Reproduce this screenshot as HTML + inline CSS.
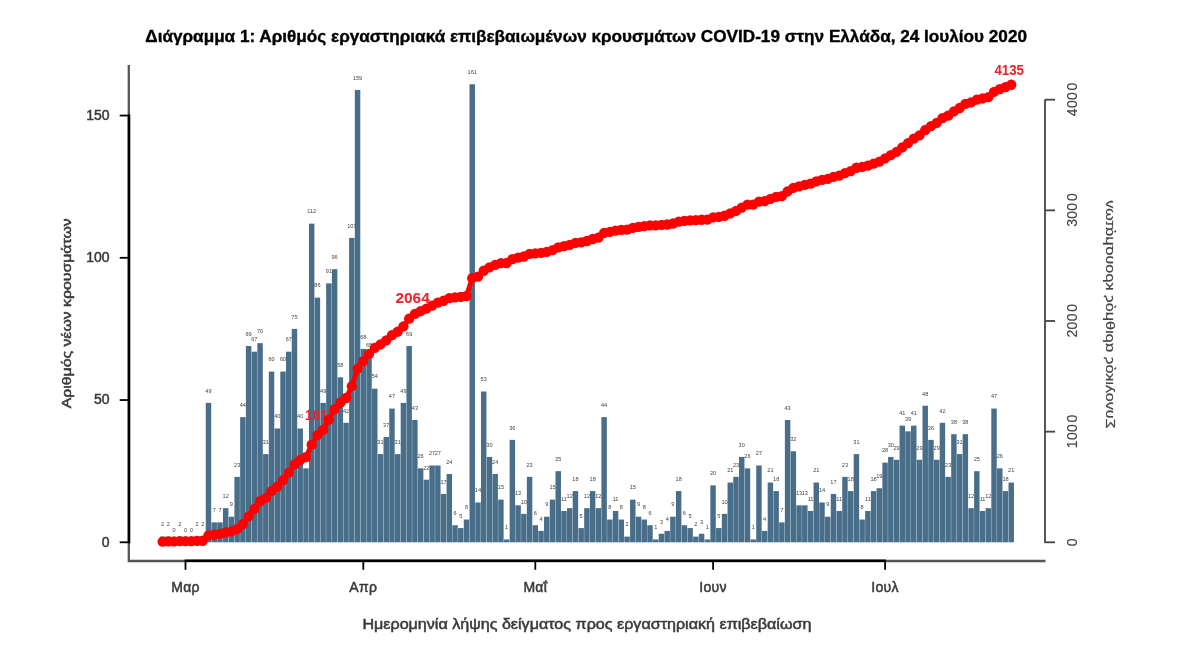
<!DOCTYPE html><html><head><meta charset="utf-8"><title>Διάγραμμα 1</title>
<style>html,body{margin:0;padding:0;background:#fff}svg{display:block;filter:blur(0.5px)}text{font-family:"Liberation Sans","DejaVu Sans",sans-serif}</style></head><body>
<svg width="1200" height="654" viewBox="0 0 1200 654">
<rect width="1200" height="654" fill="#fff"/>
<text x="145.3" y="41.7" font-size="16.2" font-weight="bold" fill="#000" stroke="#000" stroke-width="0.35" textLength="881.7" lengthAdjust="spacingAndGlyphs">Διάγραμμα 1: Αριθμός εργαστηριακά επιβεβαιωμένων κρουσμάτων COVID-19 στην Ελλάδα, 24 Ιουλίου 2020</text>
<g fill="#486e8a">
<rect x="159.88" y="536.61" width="5.45" height="5.69"/>
<rect x="165.61" y="536.61" width="5.45" height="5.69"/>
<rect x="177.08" y="536.61" width="5.45" height="5.69"/>
<rect x="194.28" y="536.61" width="5.45" height="5.69"/>
<rect x="200.01" y="536.61" width="5.45" height="5.69"/>
<rect x="205.75" y="402.89" width="5.45" height="139.41"/>
<rect x="211.48" y="522.38" width="5.45" height="19.92"/>
<rect x="217.22" y="522.38" width="5.45" height="19.92"/>
<rect x="222.95" y="508.16" width="5.45" height="34.14"/>
<rect x="228.68" y="516.69" width="5.45" height="25.61"/>
<rect x="234.42" y="476.86" width="5.45" height="65.44"/>
<rect x="240.15" y="417.12" width="5.45" height="125.18"/>
<rect x="245.89" y="345.99" width="5.45" height="196.31"/>
<rect x="251.62" y="351.68" width="5.45" height="190.62"/>
<rect x="257.35" y="343.15" width="5.45" height="199.15"/>
<rect x="263.09" y="454.10" width="5.45" height="88.20"/>
<rect x="268.82" y="371.60" width="5.45" height="170.70"/>
<rect x="274.55" y="428.50" width="5.45" height="113.80"/>
<rect x="280.29" y="371.60" width="5.45" height="170.70"/>
<rect x="286.02" y="351.68" width="5.45" height="190.62"/>
<rect x="291.76" y="328.92" width="5.45" height="213.38"/>
<rect x="297.49" y="428.50" width="5.45" height="113.80"/>
<rect x="303.22" y="468.33" width="5.45" height="73.97"/>
<rect x="308.96" y="223.66" width="5.45" height="318.64"/>
<rect x="314.69" y="297.63" width="5.45" height="244.67"/>
<rect x="320.43" y="402.89" width="5.45" height="139.41"/>
<rect x="326.16" y="283.40" width="5.45" height="258.90"/>
<rect x="331.89" y="269.18" width="5.45" height="273.12"/>
<rect x="337.63" y="377.29" width="5.45" height="165.01"/>
<rect x="343.36" y="422.81" width="5.45" height="119.49"/>
<rect x="349.10" y="237.88" width="5.45" height="304.42"/>
<rect x="354.83" y="89.94" width="5.45" height="452.36"/>
<rect x="360.56" y="348.84" width="5.45" height="193.46"/>
<rect x="366.30" y="357.37" width="5.45" height="184.93"/>
<rect x="372.03" y="388.67" width="5.45" height="153.63"/>
<rect x="377.77" y="454.10" width="5.45" height="88.20"/>
<rect x="383.50" y="437.03" width="5.45" height="105.27"/>
<rect x="389.24" y="408.58" width="5.45" height="133.72"/>
<rect x="394.97" y="454.10" width="5.45" height="88.20"/>
<rect x="400.70" y="402.89" width="5.45" height="139.41"/>
<rect x="406.44" y="345.99" width="5.45" height="196.31"/>
<rect x="412.17" y="419.96" width="5.45" height="122.34"/>
<rect x="417.90" y="468.33" width="5.45" height="73.97"/>
<rect x="423.64" y="479.71" width="5.45" height="62.59"/>
<rect x="429.37" y="465.48" width="5.45" height="76.82"/>
<rect x="435.11" y="465.48" width="5.45" height="76.82"/>
<rect x="440.84" y="493.93" width="5.45" height="48.37"/>
<rect x="446.57" y="474.02" width="5.45" height="68.28"/>
<rect x="452.31" y="525.23" width="5.45" height="17.07"/>
<rect x="458.04" y="528.07" width="5.45" height="14.23"/>
<rect x="463.78" y="519.54" width="5.45" height="22.76"/>
<rect x="469.51" y="84.25" width="5.45" height="458.05"/>
<rect x="475.25" y="502.47" width="5.45" height="39.83"/>
<rect x="480.98" y="391.51" width="5.45" height="150.78"/>
<rect x="486.71" y="456.95" width="5.45" height="85.35"/>
<rect x="492.45" y="474.02" width="5.45" height="68.28"/>
<rect x="498.18" y="499.62" width="5.45" height="42.68"/>
<rect x="503.91" y="539.45" width="5.45" height="2.85"/>
<rect x="509.65" y="439.88" width="5.45" height="102.42"/>
<rect x="515.38" y="505.31" width="5.45" height="36.98"/>
<rect x="521.12" y="513.85" width="5.45" height="28.45"/>
<rect x="526.85" y="476.86" width="5.45" height="65.44"/>
<rect x="532.58" y="525.23" width="5.45" height="17.07"/>
<rect x="538.32" y="530.92" width="5.45" height="11.38"/>
<rect x="544.05" y="516.69" width="5.45" height="25.61"/>
<rect x="549.79" y="499.62" width="5.45" height="42.68"/>
<rect x="555.52" y="471.17" width="5.45" height="71.12"/>
<rect x="561.25" y="511.00" width="5.45" height="31.30"/>
<rect x="566.99" y="508.16" width="5.45" height="34.14"/>
<rect x="572.72" y="491.09" width="5.45" height="51.21"/>
<rect x="578.46" y="528.07" width="5.45" height="14.23"/>
<rect x="584.19" y="508.16" width="5.45" height="34.14"/>
<rect x="589.92" y="491.09" width="5.45" height="51.21"/>
<rect x="595.66" y="508.16" width="5.45" height="34.14"/>
<rect x="601.39" y="417.12" width="5.45" height="125.18"/>
<rect x="607.13" y="519.54" width="5.45" height="22.76"/>
<rect x="612.86" y="511.00" width="5.45" height="31.30"/>
<rect x="618.60" y="519.54" width="5.45" height="22.76"/>
<rect x="624.33" y="536.61" width="5.45" height="5.69"/>
<rect x="630.06" y="499.62" width="5.45" height="42.68"/>
<rect x="635.80" y="516.69" width="5.45" height="25.61"/>
<rect x="641.53" y="519.54" width="5.45" height="22.76"/>
<rect x="647.26" y="525.23" width="5.45" height="17.07"/>
<rect x="653.00" y="539.45" width="5.45" height="2.85"/>
<rect x="658.73" y="533.76" width="5.45" height="8.54"/>
<rect x="664.47" y="530.92" width="5.45" height="11.38"/>
<rect x="670.20" y="516.69" width="5.45" height="25.61"/>
<rect x="675.93" y="491.09" width="5.45" height="51.21"/>
<rect x="681.67" y="525.23" width="5.45" height="17.07"/>
<rect x="687.40" y="528.07" width="5.45" height="14.23"/>
<rect x="693.14" y="536.61" width="5.45" height="5.69"/>
<rect x="698.87" y="533.76" width="5.45" height="8.54"/>
<rect x="704.61" y="539.45" width="5.45" height="2.85"/>
<rect x="710.34" y="485.40" width="5.45" height="56.90"/>
<rect x="716.07" y="528.07" width="5.45" height="14.23"/>
<rect x="721.81" y="513.85" width="5.45" height="28.45"/>
<rect x="727.54" y="482.55" width="5.45" height="59.75"/>
<rect x="733.27" y="476.86" width="5.45" height="65.44"/>
<rect x="739.01" y="456.95" width="5.45" height="85.35"/>
<rect x="744.74" y="468.33" width="5.45" height="73.97"/>
<rect x="750.48" y="539.45" width="5.45" height="2.85"/>
<rect x="756.21" y="465.48" width="5.45" height="76.82"/>
<rect x="761.95" y="530.92" width="5.45" height="11.38"/>
<rect x="767.68" y="482.55" width="5.45" height="59.75"/>
<rect x="773.41" y="491.09" width="5.45" height="51.21"/>
<rect x="779.15" y="522.38" width="5.45" height="19.92"/>
<rect x="784.88" y="419.96" width="5.45" height="122.34"/>
<rect x="790.62" y="451.26" width="5.45" height="91.04"/>
<rect x="796.35" y="505.31" width="5.45" height="36.98"/>
<rect x="802.08" y="505.31" width="5.45" height="36.98"/>
<rect x="807.82" y="511.00" width="5.45" height="31.30"/>
<rect x="813.55" y="482.55" width="5.45" height="59.75"/>
<rect x="819.28" y="502.47" width="5.45" height="39.83"/>
<rect x="825.02" y="516.69" width="5.45" height="25.61"/>
<rect x="830.75" y="493.93" width="5.45" height="48.37"/>
<rect x="836.49" y="511.00" width="5.45" height="31.30"/>
<rect x="842.22" y="476.86" width="5.45" height="65.44"/>
<rect x="847.96" y="491.09" width="5.45" height="51.21"/>
<rect x="853.69" y="454.10" width="5.45" height="88.20"/>
<rect x="859.42" y="519.54" width="5.45" height="22.76"/>
<rect x="865.16" y="511.00" width="5.45" height="31.30"/>
<rect x="870.89" y="491.09" width="5.45" height="51.21"/>
<rect x="876.62" y="488.24" width="5.45" height="54.06"/>
<rect x="882.36" y="462.64" width="5.45" height="79.66"/>
<rect x="888.09" y="456.95" width="5.45" height="85.35"/>
<rect x="893.83" y="459.79" width="5.45" height="82.51"/>
<rect x="899.56" y="425.65" width="5.45" height="116.65"/>
<rect x="905.29" y="431.34" width="5.45" height="110.96"/>
<rect x="911.03" y="425.65" width="5.45" height="116.65"/>
<rect x="916.76" y="459.79" width="5.45" height="82.51"/>
<rect x="922.50" y="405.74" width="5.45" height="136.56"/>
<rect x="928.23" y="439.88" width="5.45" height="102.42"/>
<rect x="933.97" y="459.79" width="5.45" height="82.51"/>
<rect x="939.70" y="422.81" width="5.45" height="119.49"/>
<rect x="945.43" y="476.86" width="5.45" height="65.44"/>
<rect x="951.17" y="434.19" width="5.45" height="108.11"/>
<rect x="956.90" y="454.10" width="5.45" height="88.20"/>
<rect x="962.63" y="434.19" width="5.45" height="108.11"/>
<rect x="968.37" y="508.16" width="5.45" height="34.14"/>
<rect x="974.10" y="471.17" width="5.45" height="71.12"/>
<rect x="979.84" y="511.00" width="5.45" height="31.30"/>
<rect x="985.57" y="508.16" width="5.45" height="34.14"/>
<rect x="991.30" y="408.58" width="5.45" height="133.72"/>
<rect x="997.04" y="468.33" width="5.45" height="73.97"/>
<rect x="1002.77" y="491.09" width="5.45" height="51.21"/>
<rect x="1008.51" y="482.55" width="5.45" height="59.75"/>
</g>
<g font-size="5.6" fill="#444" text-anchor="middle">
<text x="162.60" y="526.41">2</text>
<text x="168.33" y="526.41">2</text>
<text x="174.07" y="532.10">0</text>
<text x="179.80" y="526.41">2</text>
<text x="185.54" y="532.10">0</text>
<text x="191.27" y="532.10">0</text>
<text x="197.00" y="526.41">2</text>
<text x="202.74" y="526.41">2</text>
<text x="208.47" y="392.69">49</text>
<text x="214.21" y="512.18">7</text>
<text x="219.94" y="512.18">7</text>
<text x="225.67" y="497.96">12</text>
<text x="231.41" y="506.49">9</text>
<text x="237.14" y="466.66">23</text>
<text x="242.88" y="406.92">44</text>
<text x="248.61" y="335.79">69</text>
<text x="254.34" y="341.48">67</text>
<text x="260.08" y="332.95">70</text>
<text x="265.81" y="443.90">31</text>
<text x="271.55" y="361.40">60</text>
<text x="277.28" y="418.30">40</text>
<text x="283.01" y="361.40">60</text>
<text x="288.75" y="341.48">67</text>
<text x="294.48" y="318.72">75</text>
<text x="300.22" y="418.30">40</text>
<text x="305.95" y="458.13">26</text>
<text x="311.68" y="213.46">112</text>
<text x="317.42" y="287.43">86</text>
<text x="323.15" y="392.69">49</text>
<text x="328.89" y="273.20">91</text>
<text x="334.62" y="258.98">96</text>
<text x="340.35" y="367.09">58</text>
<text x="346.09" y="412.61">42</text>
<text x="351.82" y="227.68">107</text>
<text x="357.56" y="79.74">159</text>
<text x="363.29" y="338.64">68</text>
<text x="369.02" y="347.17">65</text>
<text x="374.76" y="378.47">54</text>
<text x="380.49" y="443.90">31</text>
<text x="386.23" y="426.83">37</text>
<text x="391.96" y="398.38">47</text>
<text x="397.69" y="443.90">31</text>
<text x="403.43" y="392.69">49</text>
<text x="409.16" y="335.79">69</text>
<text x="414.90" y="409.76">43</text>
<text x="420.63" y="458.13">26</text>
<text x="426.36" y="469.51">22</text>
<text x="432.10" y="455.28">27</text>
<text x="437.83" y="455.28">27</text>
<text x="443.57" y="483.73">17</text>
<text x="449.30" y="463.82">24</text>
<text x="455.03" y="515.03">6</text>
<text x="460.77" y="517.87">5</text>
<text x="466.50" y="509.34">8</text>
<text x="472.24" y="74.05">161</text>
<text x="477.97" y="492.27">14</text>
<text x="483.70" y="381.31">53</text>
<text x="489.44" y="446.75">30</text>
<text x="495.17" y="463.82">24</text>
<text x="500.91" y="489.42">15</text>
<text x="506.64" y="529.25">1</text>
<text x="512.37" y="429.68">36</text>
<text x="518.11" y="495.11">13</text>
<text x="523.84" y="503.65">10</text>
<text x="529.58" y="466.66">23</text>
<text x="535.31" y="515.03">6</text>
<text x="541.04" y="520.72">4</text>
<text x="546.78" y="506.49">9</text>
<text x="552.51" y="489.42">15</text>
<text x="558.25" y="460.97">25</text>
<text x="563.98" y="500.80">11</text>
<text x="569.71" y="497.96">12</text>
<text x="575.45" y="480.89">18</text>
<text x="581.18" y="517.87">5</text>
<text x="586.92" y="497.96">12</text>
<text x="592.65" y="480.89">18</text>
<text x="598.38" y="497.96">12</text>
<text x="604.12" y="406.92">44</text>
<text x="609.85" y="509.34">8</text>
<text x="615.59" y="500.80">11</text>
<text x="621.32" y="509.34">8</text>
<text x="627.05" y="526.41">2</text>
<text x="632.79" y="489.42">15</text>
<text x="638.52" y="506.49">9</text>
<text x="644.26" y="509.34">8</text>
<text x="649.99" y="515.03">6</text>
<text x="655.72" y="529.25">1</text>
<text x="661.46" y="523.56">3</text>
<text x="667.19" y="520.72">4</text>
<text x="672.93" y="506.49">9</text>
<text x="678.66" y="480.89">18</text>
<text x="684.39" y="515.03">6</text>
<text x="690.13" y="517.87">5</text>
<text x="695.86" y="526.41">2</text>
<text x="701.60" y="523.56">3</text>
<text x="707.33" y="529.25">1</text>
<text x="713.06" y="475.20">20</text>
<text x="718.80" y="517.87">5</text>
<text x="724.53" y="503.65">10</text>
<text x="730.27" y="472.35">21</text>
<text x="736.00" y="466.66">23</text>
<text x="741.73" y="446.75">30</text>
<text x="747.47" y="458.13">26</text>
<text x="753.20" y="529.25">1</text>
<text x="758.94" y="455.28">27</text>
<text x="764.67" y="520.72">4</text>
<text x="770.40" y="472.35">21</text>
<text x="776.14" y="480.89">18</text>
<text x="781.87" y="512.18">7</text>
<text x="787.61" y="409.76">43</text>
<text x="793.34" y="441.06">32</text>
<text x="799.07" y="495.11">13</text>
<text x="804.81" y="495.11">13</text>
<text x="810.54" y="500.80">11</text>
<text x="816.28" y="472.35">21</text>
<text x="822.01" y="492.27">14</text>
<text x="827.74" y="506.49">9</text>
<text x="833.48" y="483.73">17</text>
<text x="839.21" y="500.80">11</text>
<text x="844.95" y="466.66">23</text>
<text x="850.68" y="480.89">18</text>
<text x="856.41" y="443.90">31</text>
<text x="862.15" y="509.34">8</text>
<text x="867.88" y="500.80">11</text>
<text x="873.62" y="480.89">18</text>
<text x="879.35" y="478.04">19</text>
<text x="885.08" y="452.44">28</text>
<text x="890.82" y="446.75">30</text>
<text x="896.55" y="449.59">29</text>
<text x="902.29" y="415.45">41</text>
<text x="908.02" y="421.14">39</text>
<text x="913.75" y="415.45">41</text>
<text x="919.49" y="449.59">29</text>
<text x="925.22" y="395.54">48</text>
<text x="930.96" y="429.68">36</text>
<text x="936.69" y="449.59">29</text>
<text x="942.42" y="412.61">42</text>
<text x="948.16" y="466.66">23</text>
<text x="953.89" y="423.99">38</text>
<text x="959.63" y="443.90">31</text>
<text x="965.36" y="423.99">38</text>
<text x="971.09" y="497.96">12</text>
<text x="976.83" y="460.97">25</text>
<text x="982.56" y="500.80">11</text>
<text x="988.30" y="497.96">12</text>
<text x="994.03" y="398.38">47</text>
<text x="999.76" y="458.13">26</text>
<text x="1005.50" y="480.89">18</text>
<text x="1011.23" y="472.35">21</text>
</g>
<path d="M128.8 65V561H1045.5" fill="none" stroke="#555" stroke-width="2.3"/>
<g stroke="#000" stroke-width="2.6" fill="none"><path d="M129 114.5V543.2"/>
<path d="M119.7 542.30H129" stroke-width="1.8"/>
<path d="M119.7 400.05H129" stroke-width="1.8"/>
<path d="M119.7 257.80H129" stroke-width="1.8"/>
<path d="M119.7 115.55H129" stroke-width="1.8"/>
<path d="M184.6 560.8H886.0" stroke-width="2.6"/>
<path d="M185.5 560.8V569.8" stroke-width="1.8"/>
<path d="M363.3 560.8V569.8" stroke-width="1.8"/>
<path d="M535.3 560.8V569.8" stroke-width="1.8"/>
<path d="M713.1 560.8V569.8" stroke-width="1.8"/>
<path d="M885.1 560.8V569.8" stroke-width="1.8"/>
</g>
<g stroke="#444" stroke-width="1.8" fill="none"><path d="M1045 99.5V543"/>
<path d="M1045 542.30H1055"/>
<path d="M1045 431.65H1055"/>
<path d="M1045 321.00H1055"/>
<path d="M1045 210.35H1055"/>
<path d="M1045 99.70H1055"/>
</g>
<g font-size="14" fill="#3a3a3a" stroke="#3a3a3a" stroke-width="0.5">
<text x="109.5" y="546.70" text-anchor="end">0</text>
<text x="109.5" y="404.45" text-anchor="end">50</text>
<text x="109.5" y="262.20" text-anchor="end">100</text>
<text x="109.5" y="119.95" text-anchor="end">150</text>
<text x="185.5" y="592" text-anchor="middle" letter-spacing="0.3">Μαρ</text>
<text x="363.3" y="592" text-anchor="middle" letter-spacing="0.3">Απρ</text>
<text x="535.3" y="592" text-anchor="middle" letter-spacing="0.3">Μαΐ</text>
<text x="713.1" y="592" text-anchor="middle" letter-spacing="0.3">Ιουν</text>
<text x="885.1" y="592" text-anchor="middle" letter-spacing="0.3">Ιουλ</text>
<text transform="translate(1077 542.30) rotate(-90)" text-anchor="middle" stroke-width="0.15" fill="#444" stroke="#444">0</text>
<text transform="translate(1077 448.15) rotate(-90)" letter-spacing="0.3" stroke-width="0.15" fill="#444" stroke="#444">100<tspan dx="1.5">0</tspan></text>
<text transform="translate(1077 337.50) rotate(-90)" letter-spacing="0.3" stroke-width="0.15" fill="#444" stroke="#444">200<tspan dx="1.5">0</tspan></text>
<text transform="translate(1077 226.85) rotate(-90)" letter-spacing="0.3" stroke-width="0.15" fill="#444" stroke="#444">300<tspan dx="1.5">0</tspan></text>
<text transform="translate(1077 116.20) rotate(-90)" letter-spacing="0.3" stroke-width="0.15" fill="#444" stroke="#444">400<tspan dx="1.5">0</tspan></text>
</g>
<g font-size="13.5" fill="#3a3a3a" stroke="#3a3a3a" stroke-width="0.5">
<text transform="translate(70.5 313.3) rotate(-90)" text-anchor="middle" textLength="190" lengthAdjust="spacingAndGlyphs">Αριθμός νέων κρουσμάτων</text>
<text transform="translate(1106 314.3) rotate(90) scale(-1 1)" text-anchor="middle" stroke-width="0.2" fill="#444" stroke="#444" textLength="228.5" lengthAdjust="spacingAndGlyphs">Συνολικός αριθμός κρουσμάτων</text>
<text x="362.4" y="629" font-size="14.2" textLength="449" lengthAdjust="spacingAndGlyphs">Ημερομηνία λήψης δείγματος προς εργαστηριακή επιβεβαίωση</text>
</g>
<g font-size="14.2" font-weight="bold" fill="#f0202a" lengthAdjust="spacingAndGlyphs">
<text x="304.9" y="419.8" textLength="30.5" lengthAdjust="spacingAndGlyphs">1017</text>
<text x="395.4" y="303" textLength="34.4" lengthAdjust="spacingAndGlyphs">2064</text>
<text x="994.5" y="74.5" textLength="29.5" lengthAdjust="spacingAndGlyphs">4135</text>
</g>
<g fill="#ff0000">
<polyline fill="none" stroke="#ff0000" stroke-width="5" stroke-linejoin="round" points="162.60,541.64 168.33,541.41 174.07,541.41 179.80,541.19 185.54,541.19 191.27,541.19 197.00,540.97 202.74,540.75 208.47,535.33 214.21,534.55 219.94,533.78 225.67,532.45 231.41,531.46 237.14,528.91 242.88,524.04 248.61,516.41 254.34,508.99 260.08,501.25 265.81,497.82 271.55,491.18 277.28,486.75 283.01,480.11 288.75,472.70 294.48,464.40 300.22,459.98 305.95,457.10 311.68,444.71 317.42,435.19 323.15,429.77 328.89,419.70 334.62,409.08 340.35,402.66 346.09,398.01 351.82,386.17 357.56,368.58 363.29,361.06 369.02,353.86 374.76,347.89 380.49,344.46 386.23,340.36 391.96,335.16 397.69,331.73 403.43,326.31 409.16,318.68 414.90,313.92 420.63,311.04 426.36,308.61 432.10,305.62 437.83,302.63 443.57,300.75 449.30,298.10 455.03,297.43 460.77,296.88 466.50,295.99 472.24,278.18 477.97,276.63 483.70,270.76 489.44,267.45 495.17,264.79 500.91,263.13 506.64,263.02 512.37,259.04 518.11,257.60 523.84,256.49 529.58,253.95 535.31,253.28 541.04,252.84 546.78,251.84 552.51,250.18 558.25,247.42 563.98,246.20 569.71,244.87 575.45,242.88 581.18,242.33 586.92,241.00 592.65,239.01 598.38,237.68 604.12,232.81 609.85,231.93 615.59,230.71 621.32,229.82 627.05,229.60 632.79,227.94 638.52,226.95 644.26,226.06 649.99,225.40 655.72,225.29 661.46,224.96 667.19,224.51 672.93,223.52 678.66,221.53 684.39,220.86 690.13,220.31 695.86,220.09 701.60,219.76 707.33,219.64 713.06,217.43 718.80,216.88 724.53,215.77 730.27,213.45 736.00,210.90 741.73,207.58 747.47,204.71 753.20,204.60 758.94,201.61 764.67,201.17 770.40,198.84 776.14,196.85 781.87,196.08 787.61,191.32 793.34,187.78 799.07,186.34 804.81,184.90 810.54,183.68 816.28,181.36 822.01,179.81 827.74,178.81 833.48,176.93 839.21,175.72 844.95,173.17 850.68,171.18 856.41,167.75 862.15,166.86 867.88,165.65 873.62,163.66 879.35,161.55 885.08,158.46 890.82,155.14 896.55,151.93 902.29,147.39 908.02,143.07 913.75,138.54 919.49,135.33 925.22,130.02 930.96,126.03 936.69,122.83 942.42,118.18 948.16,115.63 953.89,111.43 959.63,108.00 965.36,103.79 971.09,102.47 976.83,99.70 982.56,98.48 988.30,97.16 994.03,91.95 999.76,89.08 1005.50,87.09 1011.23,84.76"/>
<circle cx="162.60" cy="541.64" r="5.15"/>
<circle cx="168.33" cy="541.41" r="5.15"/>
<circle cx="174.07" cy="541.41" r="5.15"/>
<circle cx="179.80" cy="541.19" r="5.15"/>
<circle cx="185.54" cy="541.19" r="5.15"/>
<circle cx="191.27" cy="541.19" r="5.15"/>
<circle cx="197.00" cy="540.97" r="5.15"/>
<circle cx="202.74" cy="540.75" r="5.15"/>
<circle cx="208.47" cy="535.33" r="5.15"/>
<circle cx="214.21" cy="534.55" r="5.15"/>
<circle cx="219.94" cy="533.78" r="5.15"/>
<circle cx="225.67" cy="532.45" r="5.15"/>
<circle cx="231.41" cy="531.46" r="5.15"/>
<circle cx="237.14" cy="528.91" r="5.15"/>
<circle cx="242.88" cy="524.04" r="5.15"/>
<circle cx="248.61" cy="516.41" r="5.15"/>
<circle cx="254.34" cy="508.99" r="5.15"/>
<circle cx="260.08" cy="501.25" r="5.15"/>
<circle cx="265.81" cy="497.82" r="5.15"/>
<circle cx="271.55" cy="491.18" r="5.15"/>
<circle cx="277.28" cy="486.75" r="5.15"/>
<circle cx="283.01" cy="480.11" r="5.15"/>
<circle cx="288.75" cy="472.70" r="5.15"/>
<circle cx="294.48" cy="464.40" r="5.15"/>
<circle cx="300.22" cy="459.98" r="5.15"/>
<circle cx="305.95" cy="457.10" r="5.15"/>
<circle cx="311.68" cy="444.71" r="5.15"/>
<circle cx="317.42" cy="435.19" r="5.15"/>
<circle cx="323.15" cy="429.77" r="5.15"/>
<circle cx="328.89" cy="419.70" r="5.15"/>
<circle cx="334.62" cy="409.08" r="5.15"/>
<circle cx="340.35" cy="402.66" r="5.15"/>
<circle cx="346.09" cy="398.01" r="5.15"/>
<circle cx="351.82" cy="386.17" r="5.15"/>
<circle cx="357.56" cy="368.58" r="5.15"/>
<circle cx="363.29" cy="361.06" r="5.15"/>
<circle cx="369.02" cy="353.86" r="5.15"/>
<circle cx="374.76" cy="347.89" r="5.15"/>
<circle cx="380.49" cy="344.46" r="5.15"/>
<circle cx="386.23" cy="340.36" r="5.15"/>
<circle cx="391.96" cy="335.16" r="5.15"/>
<circle cx="397.69" cy="331.73" r="5.15"/>
<circle cx="403.43" cy="326.31" r="5.15"/>
<circle cx="409.16" cy="318.68" r="5.15"/>
<circle cx="414.90" cy="313.92" r="5.15"/>
<circle cx="420.63" cy="311.04" r="5.15"/>
<circle cx="426.36" cy="308.61" r="5.15"/>
<circle cx="432.10" cy="305.62" r="5.15"/>
<circle cx="437.83" cy="302.63" r="5.15"/>
<circle cx="443.57" cy="300.75" r="5.15"/>
<circle cx="449.30" cy="298.10" r="5.15"/>
<circle cx="455.03" cy="297.43" r="5.15"/>
<circle cx="460.77" cy="296.88" r="5.15"/>
<circle cx="466.50" cy="295.99" r="5.15"/>
<circle cx="472.24" cy="278.18" r="5.15"/>
<circle cx="477.97" cy="276.63" r="5.15"/>
<circle cx="483.70" cy="270.76" r="5.15"/>
<circle cx="489.44" cy="267.45" r="5.15"/>
<circle cx="495.17" cy="264.79" r="5.15"/>
<circle cx="500.91" cy="263.13" r="5.15"/>
<circle cx="506.64" cy="263.02" r="5.15"/>
<circle cx="512.37" cy="259.04" r="5.15"/>
<circle cx="518.11" cy="257.60" r="5.15"/>
<circle cx="523.84" cy="256.49" r="5.15"/>
<circle cx="529.58" cy="253.95" r="5.15"/>
<circle cx="535.31" cy="253.28" r="5.15"/>
<circle cx="541.04" cy="252.84" r="5.15"/>
<circle cx="546.78" cy="251.84" r="5.15"/>
<circle cx="552.51" cy="250.18" r="5.15"/>
<circle cx="558.25" cy="247.42" r="5.15"/>
<circle cx="563.98" cy="246.20" r="5.15"/>
<circle cx="569.71" cy="244.87" r="5.15"/>
<circle cx="575.45" cy="242.88" r="5.15"/>
<circle cx="581.18" cy="242.33" r="5.15"/>
<circle cx="586.92" cy="241.00" r="5.15"/>
<circle cx="592.65" cy="239.01" r="5.15"/>
<circle cx="598.38" cy="237.68" r="5.15"/>
<circle cx="604.12" cy="232.81" r="5.15"/>
<circle cx="609.85" cy="231.93" r="5.15"/>
<circle cx="615.59" cy="230.71" r="5.15"/>
<circle cx="621.32" cy="229.82" r="5.15"/>
<circle cx="627.05" cy="229.60" r="5.15"/>
<circle cx="632.79" cy="227.94" r="5.15"/>
<circle cx="638.52" cy="226.95" r="5.15"/>
<circle cx="644.26" cy="226.06" r="5.15"/>
<circle cx="649.99" cy="225.40" r="5.15"/>
<circle cx="655.72" cy="225.29" r="5.15"/>
<circle cx="661.46" cy="224.96" r="5.15"/>
<circle cx="667.19" cy="224.51" r="5.15"/>
<circle cx="672.93" cy="223.52" r="5.15"/>
<circle cx="678.66" cy="221.53" r="5.15"/>
<circle cx="684.39" cy="220.86" r="5.15"/>
<circle cx="690.13" cy="220.31" r="5.15"/>
<circle cx="695.86" cy="220.09" r="5.15"/>
<circle cx="701.60" cy="219.76" r="5.15"/>
<circle cx="707.33" cy="219.64" r="5.15"/>
<circle cx="713.06" cy="217.43" r="5.15"/>
<circle cx="718.80" cy="216.88" r="5.15"/>
<circle cx="724.53" cy="215.77" r="5.15"/>
<circle cx="730.27" cy="213.45" r="5.15"/>
<circle cx="736.00" cy="210.90" r="5.15"/>
<circle cx="741.73" cy="207.58" r="5.15"/>
<circle cx="747.47" cy="204.71" r="5.15"/>
<circle cx="753.20" cy="204.60" r="5.15"/>
<circle cx="758.94" cy="201.61" r="5.15"/>
<circle cx="764.67" cy="201.17" r="5.15"/>
<circle cx="770.40" cy="198.84" r="5.15"/>
<circle cx="776.14" cy="196.85" r="5.15"/>
<circle cx="781.87" cy="196.08" r="5.15"/>
<circle cx="787.61" cy="191.32" r="5.15"/>
<circle cx="793.34" cy="187.78" r="5.15"/>
<circle cx="799.07" cy="186.34" r="5.15"/>
<circle cx="804.81" cy="184.90" r="5.15"/>
<circle cx="810.54" cy="183.68" r="5.15"/>
<circle cx="816.28" cy="181.36" r="5.15"/>
<circle cx="822.01" cy="179.81" r="5.15"/>
<circle cx="827.74" cy="178.81" r="5.15"/>
<circle cx="833.48" cy="176.93" r="5.15"/>
<circle cx="839.21" cy="175.72" r="5.15"/>
<circle cx="844.95" cy="173.17" r="5.15"/>
<circle cx="850.68" cy="171.18" r="5.15"/>
<circle cx="856.41" cy="167.75" r="5.15"/>
<circle cx="862.15" cy="166.86" r="5.15"/>
<circle cx="867.88" cy="165.65" r="5.15"/>
<circle cx="873.62" cy="163.66" r="5.15"/>
<circle cx="879.35" cy="161.55" r="5.15"/>
<circle cx="885.08" cy="158.46" r="5.15"/>
<circle cx="890.82" cy="155.14" r="5.15"/>
<circle cx="896.55" cy="151.93" r="5.15"/>
<circle cx="902.29" cy="147.39" r="5.15"/>
<circle cx="908.02" cy="143.07" r="5.15"/>
<circle cx="913.75" cy="138.54" r="5.15"/>
<circle cx="919.49" cy="135.33" r="5.15"/>
<circle cx="925.22" cy="130.02" r="5.15"/>
<circle cx="930.96" cy="126.03" r="5.15"/>
<circle cx="936.69" cy="122.83" r="5.15"/>
<circle cx="942.42" cy="118.18" r="5.15"/>
<circle cx="948.16" cy="115.63" r="5.15"/>
<circle cx="953.89" cy="111.43" r="5.15"/>
<circle cx="959.63" cy="108.00" r="5.15"/>
<circle cx="965.36" cy="103.79" r="5.15"/>
<circle cx="971.09" cy="102.47" r="5.15"/>
<circle cx="976.83" cy="99.70" r="5.15"/>
<circle cx="982.56" cy="98.48" r="5.15"/>
<circle cx="988.30" cy="97.16" r="5.15"/>
<circle cx="994.03" cy="91.95" r="5.15"/>
<circle cx="999.76" cy="89.08" r="5.15"/>
<circle cx="1005.50" cy="87.09" r="5.15"/>
<circle cx="1011.23" cy="84.76" r="5.15"/>
</g>
</svg></body></html>
